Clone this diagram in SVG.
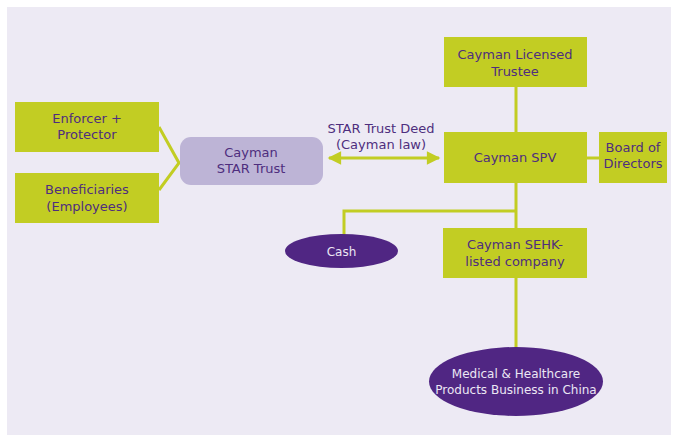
<svg xmlns="http://www.w3.org/2000/svg" width="676" height="435" viewBox="0 0 676 435">
  <style>
    .box { fill: #c2cd23; }
    .lbl { font-family: "DejaVu Sans", Verdana, sans-serif; font-size: 13px; fill: #4e2e7e; text-anchor: middle; }
    .lbl-light { font-family: "DejaVu Sans", Verdana, sans-serif; font-size: 12px; fill: #ece6f4; text-anchor: middle; }
    .oval { fill: #502683; }
    .wire { stroke: #c2cd23; stroke-width: 3; fill: none; }
  </style>
  <defs>
    <marker id="head" viewBox="0 0 10 10" refX="9" refY="5" markerWidth="6" markerHeight="4.5" markerUnits="strokeWidth" orient="auto-start-reverse">
      <path d="M0,0 L10,5 L0,10 z" fill="#c2cd23"/>
    </marker>
  </defs>

  <!-- panel -->
  <rect x="7" y="7" width="664" height="428" fill="#edeaf4"/>

  <!-- connectors -->
  <g id="connectors">
    <polyline class="wire" points="159,127 179,163 159,190"/>
    <line class="wire" x1="329" y1="158" x2="439" y2="158" marker-start="url(#head)" marker-end="url(#head)"/>
    <line class="wire" x1="516" y1="87" x2="516" y2="132"/>
    <line class="wire" x1="587" y1="158" x2="599" y2="158"/>
    <line class="wire" x1="516" y1="183" x2="516" y2="228"/>
    <polyline class="wire" points="516,211 344,211 344,235"/>
    <line class="wire" x1="516" y1="278" x2="516" y2="348"/>
    <text class="lbl" x="381" y="133">STAR Trust Deed</text>
    <text class="lbl" x="381" y="149">(Cayman law)</text>
  </g>

  <g id="enforcer">
    <rect class="box" x="15" y="102" width="144" height="50"/>
    <text class="lbl" x="87" y="123">Enforcer +</text>
    <text class="lbl" x="87" y="139">Protector</text>
  </g>

  <g id="beneficiaries">
    <rect class="box" x="15" y="173" width="144" height="50"/>
    <text class="lbl" x="87" y="194">Beneficiaries</text>
    <text class="lbl" x="87" y="211">(Employees)</text>
  </g>

  <g id="star-trust">
    <rect x="180" y="137" width="143" height="48" rx="11" fill="#bdb4d6"/>
    <text class="lbl" x="251" y="157">Cayman</text>
    <text class="lbl" x="251" y="173">STAR Trust</text>
  </g>

  <g id="trustee">
    <rect class="box" x="444" y="37" width="143" height="50"/>
    <text class="lbl" x="515" y="59">Cayman Licensed</text>
    <text class="lbl" x="515" y="76">Trustee</text>
  </g>

  <g id="spv">
    <rect class="box" x="444" y="132" width="143" height="51"/>
    <text class="lbl" x="515" y="162">Cayman SPV</text>
  </g>

  <g id="board">
    <rect class="box" x="599" y="132" width="68" height="51"/>
    <text class="lbl" x="633" y="152">Board of</text>
    <text class="lbl" x="633" y="168">Directors</text>
  </g>

  <g id="cash">
    <ellipse class="oval" cx="341.5" cy="251" rx="56.5" ry="17"/>
    <text class="lbl-light" x="341.5" y="256">Cash</text>
  </g>

  <g id="sehk">
    <rect class="box" x="443" y="228" width="144" height="50"/>
    <text class="lbl" x="515" y="249">Cayman SEHK-</text>
    <text class="lbl" x="515" y="266">listed company</text>
  </g>

  <g id="business">
    <ellipse class="oval" cx="516" cy="381.5" rx="87" ry="34.5"/>
    <text class="lbl-light" x="516" y="378">Medical &amp; Healthcare</text>
    <text class="lbl-light" x="516" y="394">Products Business in China</text>
  </g>
</svg>
